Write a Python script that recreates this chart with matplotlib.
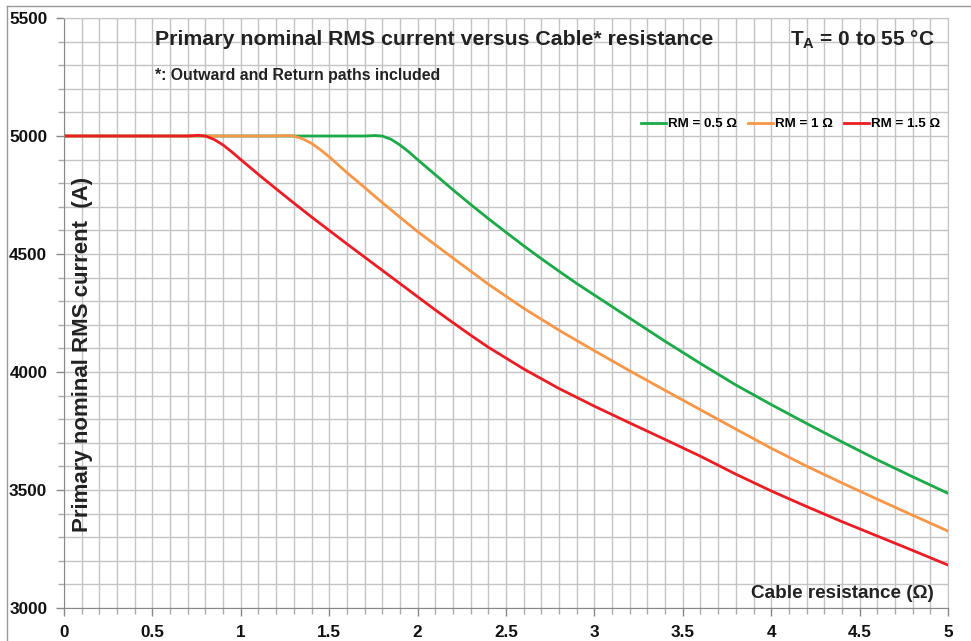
import matplotlib.pyplot as plt
from matplotlib.lines import Line2D
from matplotlib.ticker import MultipleLocator

# cable resistance (ohm) and primary nominal RMS current (A)
x_rm05 = [0, 0.5, 1.0, 1.5, 1.7, 1.76, 1.8, 1.85, 1.9, 1.95, 2.0, 2.1, 2.2, 2.3, 2.4, 2.5,
          2.6, 2.7, 2.8, 2.9, 3.0, 3.2, 3.4, 3.6, 3.8, 4.0, 4.2, 4.4, 4.6, 4.8, 5.0]
i_rm05 = [5000, 5000, 5000, 5000, 5000, 5002, 5000, 4986, 4962, 4933, 4900, 4836, 4772, 4710, 4650, 4592,
          4535, 4480, 4427, 4375, 4326, 4228, 4130, 4036, 3945, 3862, 3782, 3704, 3628, 3556, 3486]

x_rm1 = [0, 0.5, 1.0, 1.2, 1.26, 1.3, 1.35, 1.4, 1.45, 1.5, 1.6, 1.7, 1.8, 1.9, 2.0, 2.2, 2.4,
         2.6, 2.8, 3.0, 3.2, 3.4, 3.6, 3.8, 4.0, 4.2, 4.4, 4.6, 4.8, 5.0]
i_rm1 = [5000, 5000, 5000, 5000, 5002, 5000, 4988, 4969, 4942, 4912, 4845, 4782, 4718, 4656, 4595, 4483, 4372,
         4270, 4177, 4090, 4005, 3922, 3840, 3758, 3677, 3601, 3530, 3461, 3393, 3326]

x_rm15 = [0, 0.5, 0.7, 0.76, 0.8, 0.85, 0.9, 0.95, 1.0, 1.1, 1.2, 1.3, 1.4, 1.5, 1.6, 1.7, 1.8,
          1.9, 2.0, 2.1, 2.2, 2.3, 2.4, 2.6, 2.8, 3.0, 3.2, 3.4, 3.6, 3.8, 4.0, 4.2, 4.4, 4.6, 4.8, 5.0]
i_rm15 = [5000, 5000, 5000, 5003, 5000, 4985, 4962, 4932, 4900, 4837, 4776, 4716, 4657, 4600, 4543, 4487, 4431,
          4375, 4319, 4263, 4209, 4156, 4105, 4013, 3930, 3855, 3784, 3714, 3643, 3567, 3496, 3430, 3366, 3305,
          3244, 3182]

plt.rcParams['font.family'] = ['Liberation Sans', 'DejaVu Sans']

fig = plt.figure(figsize=(9.71, 6.41), dpi=100)
ax = fig.add_axes([0.0659, 0.0515, 0.9104, 0.9204])

ax.plot(x_rm05, i_rm05, color='#1aaa48', lw=2.0, label='RM = 0.5 Ω')
ax.plot(x_rm1, i_rm1, color='#f79646', lw=2.0, label='RM = 1 Ω')
ax.plot(x_rm15, i_rm15, color='#ec1c24', lw=2.0, label='RM = 1.5 Ω')

ax.set_xlim(0, 5)
ax.set_ylim(3000, 5500)
ax.xaxis.set_minor_locator(MultipleLocator(0.1))
ax.yaxis.set_major_locator(MultipleLocator(500))
ax.yaxis.set_minor_locator(MultipleLocator(100))
ax.set_xticks([0, 0.5, 1, 1.5, 2, 2.5, 3, 3.5, 4, 4.5, 5])
ax.set_xticklabels(['0', '0.5', '1', '1.5', '2', '2.5', '3', '3.5', '4', '4.5', '5'])
ax.grid(which='both', color='#c4c4c4', lw=1.0)
ax.set_axisbelow(True)

for lab in ax.get_xticklabels() + ax.get_yticklabels():
    lab.set_fontweight('bold')
    lab.set_fontsize(12.3)
    lab.set_color('#111111')
ax.tick_params(which='major', length=6, width=1, color='#888888', pad=6)
ax.tick_params(which='minor', length=4, width=1, color='#aaaaaa')

for s in ['top', 'right']:
    ax.spines[s].set_color('#c4c4c4')
for s in ['left', 'bottom']:
    ax.spines[s].set_color('#888888')

ax.text(0.103, 0.963, 'Primary nominal RMS current versus Cable* resistance',
        transform=ax.transAxes, fontsize=15.3, fontweight='bold', color='#222222',
        ha='left', va='center')
ax.text(0.985, 0.963, r'T$_\mathregular{A}$ = 0 to 55 °C', transform=ax.transAxes,
        fontsize=15, fontweight='bold', color='#222222', ha='right', va='center')
ax.text(0.103, 0.902, '*: Outward and Return paths included', transform=ax.transAxes,
        fontsize=11.4, fontweight='bold', color='#222222', ha='left', va='center')
ax.text(0.0204, 0.4305, 'Primary nominal RMS current  (A)', transform=ax.transAxes,
        fontsize=16, fontweight='bold', color='#222222', rotation=90,
        ha='center', va='center')
ax.text(0.984, 0.0254, 'Cable resistance (Ω)', transform=ax.transAxes,
        fontsize=13.6, fontweight='bold', color='#222222', ha='right', va='center')

leg = ax.legend(loc='center right', bbox_to_anchor=(1.0, 0.82), ncol=3, frameon=False,
                prop={'weight': 'bold', 'size': 9.6}, handlelength=1.9,
                handletextpad=0.15, columnspacing=0.8, borderaxespad=0.2)

# outer border of the picture
fig.add_artist(Line2D([7 / 971, 7 / 971], [0, 1 - 6 / 641], transform=fig.transFigure,
                      color='#999999', lw=1))
fig.add_artist(Line2D([7 / 971, 1], [1 - 6 / 641, 1 - 6 / 641], transform=fig.transFigure,
                      color='#999999', lw=1))

plt.savefig('out.png', dpi=100)
